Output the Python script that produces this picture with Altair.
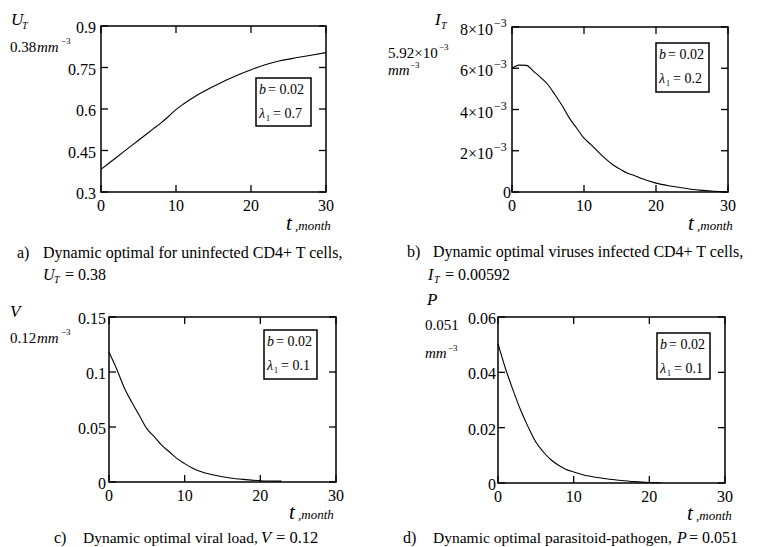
import altair as alt
import pandas as pd

FONT = "Liberation Serif"
W, H = 744, 545
NB = "\u00a0"

# ---------------- data ----------------
t_a = [0, 1, 2, 3, 4, 5, 6, 7, 8, 9, 10, 11, 12, 13, 14, 16, 18, 20, 22, 24, 26, 28, 30]
u_a = [0.382, 0.403, 0.424, 0.445, 0.466, 0.487, 0.508, 0.529, 0.55, 0.573, 0.598, 0.618,
       0.636, 0.653, 0.668, 0.695, 0.72, 0.742, 0.761, 0.775, 0.785, 0.794, 0.804]

t_b = [0, 0.5, 1, 2, 3, 4, 5, 6, 7, 8, 9, 10, 11, 12, 13, 14, 15, 16, 17, 18, 20, 22, 24, 26, 28, 30]
i_b = [0.00599, 0.0061, 0.00615, 0.00614, 0.00585, 0.00555, 0.0052, 0.0047, 0.00417, 0.00357,
       0.00309, 0.00261, 0.00229, 0.00193, 0.00161, 0.00132, 0.00111, 0.00092, 0.0008, 0.00065,
       0.00043, 0.00029, 0.00018, 0.00009, 0.00004, 0.00002]

t_c = [0, 1, 2, 3, 4, 5, 6, 7, 8, 9, 10, 11, 12, 14, 16, 18, 20, 22.8]
v_c = [0.118, 0.103, 0.086, 0.0727, 0.0606, 0.0485, 0.041, 0.0333, 0.0273, 0.0212, 0.0167,
       0.0127, 0.0097, 0.0061, 0.0036, 0.0022, 0.0012, 0.0008]

t_d = [0, 1, 2, 3, 4, 5, 6, 7, 8, 9, 10, 12, 14, 16, 18, 20, 21.5]
p_d = [0.0504, 0.0413, 0.0335, 0.0263, 0.0202, 0.0148, 0.0112, 0.0084, 0.0064, 0.0049, 0.004,
       0.0025, 0.0016, 0.001, 0.0005, 0.0002, 0.0001]

x_ticks = [0, 10, 20, 30]
y_ticks_a = [0.3, 0.45, 0.6, 0.75, 0.9]
y_ticks_b = [0, 0.002, 0.004, 0.006, 0.008]
y_ticks_c = [0, 0.05, 0.1, 0.15]
y_ticks_d = [0, 0.02, 0.04, 0.06]

captions = [
    "Dynamic optimal for uninfected CD4+ T cells,",
    "Dynamic optimal viruses infected CD4+ T cells,",
    "Dynamic optimal viral load,",
    "Dynamic optimal parasitoid-pathogen,",
]
caption_values = ["= 0.38", "= 0.00592", "=" + NB + "0.12", "= 0.051"]
letters = ["a)", "b)", "c)", "d)"]
b_param = "= 0.02"
lambdas = ["= 0.7", "= 0.2", "= 0.1", "= 0.1"]

_one = pd.DataFrame({"k": [0]})


def txt(s, x, y, size=16, italic=False, align="left", baseline="alphabetic"):
    return alt.Chart(_one).mark_text(
        text=s, font=FONT, fontSize=size, fontStyle="italic" if italic else "normal",
        align=align, baseline=baseline, color="black",
    ).encode(x=alt.value(x), y=alt.value(y))


def panel(t, v, geom, ydom, yticks, lab_pad=4, y_labels=True, extra=()):
    L, R, T, B = geom
    xs = alt.Scale(domain=[0, 30], range=[L, R], nice=False, zero=False)
    ys = alt.Scale(domain=ydom, range=[B, T], nice=False, zero=False)
    df = pd.DataFrame({"t": t, "v": v})
    line = alt.Chart(df).mark_line(color="black", strokeWidth=1.1, interpolate="monotone").encode(
        x=alt.X("t:Q", scale=xs, axis=None),
        y=alt.Y("v:Q", scale=ys, axis=None),
    )
    frame = alt.Chart(_one).mark_rect(fillOpacity=0, stroke="black", strokeWidth=1.5).encode(
        x=alt.value(L), x2=alt.value(R), y=alt.value(T), y2=alt.value(B)
    )
    ytk = pd.DataFrame({"yt": yticks})
    xtk = pd.DataFrame({"xt": x_ticks})
    rule = dict(color="black", strokeWidth=1.3)
    left = alt.Chart(ytk).mark_rule(**rule).encode(
        y=alt.Y("yt:Q", scale=ys, axis=None), x=alt.value(L), x2=alt.value(L + 7))
    right = alt.Chart(ytk).mark_rule(**rule).encode(
        y=alt.Y("yt:Q", scale=ys, axis=None), x=alt.value(R - 7), x2=alt.value(R))
    top = alt.Chart(xtk).mark_rule(**rule).encode(
        x=alt.X("xt:Q", scale=xs, axis=None), y=alt.value(T), y2=alt.value(T + 7))
    bottom = alt.Chart(xtk).mark_rule(**rule).encode(
        x=alt.X("xt:Q", scale=xs, axis=None), y=alt.value(B - 7), y2=alt.value(B))
    xlab = alt.Chart(xtk).transform_calculate(lbl="format(datum.xt, '~g')").mark_text(
        font=FONT, fontSize=16, align="center", baseline="top", color="black").encode(
        x=alt.X("xt:Q", scale=xs, axis=None), y=alt.value(B + 6), text="lbl:N")
    layers = [line, frame, left, right, top, bottom, xlab]
    if y_labels:
        ylab = alt.Chart(ytk).transform_calculate(lbl="format(datum.yt, '~g')").mark_text(
            font=FONT, fontSize=16, align="right", baseline="middle", dy=2, color="black").encode(
            y=alt.Y("yt:Q", scale=ys, axis=None), x=alt.value(L - lab_pad), text="lbl:N")
        layers.append(ylab)
    for f in extra:
        layers.append(f(ys))
    return alt.layer(*layers)


# panel geometry (chart pixel coords): left, right, top, bottom
GA = (93, 318, 18, 184)
GB = (504, 720, 19, 184)
GC = (101, 328, 309, 474)
GD = (490, 717, 309, 475)


# panel b: y labels in the "8×10^-3" style
def b_main(ys):
    d = pd.DataFrame({"yt": y_ticks_b[1:]})
    return alt.Chart(d).transform_calculate(
        lbl="format(datum.yt * 1000, 'd') + '×10'"
    ).mark_text(font=FONT, fontSize=16, align="right", baseline="middle", dy=3, color="black").encode(
        y=alt.Y("yt:Q", scale=ys, axis=None), x=alt.value(GB[0] - 19), text="lbl:N")


def b_exp(ys):
    d = pd.DataFrame({"yt": y_ticks_b[1:]})
    return alt.Chart(d).mark_text(text="−3", font=FONT, fontSize=12, align="left",
                                  baseline="middle", dy=-4, color="black").encode(
        y=alt.Y("yt:Q", scale=ys, axis=None), x=alt.value(GB[0] - 18))


def b_zero(ys):
    d = pd.DataFrame({"yt": y_ticks_b[:1]})
    return alt.Chart(d).transform_calculate(lbl="format(datum.yt, 'd')").mark_text(
        font=FONT, fontSize=16, align="right", baseline="middle", dy=1, color="black").encode(
        y=alt.Y("yt:Q", scale=ys, axis=None), x=alt.value(GB[0] - 1), text="lbl:N")


pa = panel(t_a, u_a, GA, [0.3, 0.9], y_ticks_a, lab_pad=5)
pb = panel(t_b, i_b, GB, [0, 0.008], y_ticks_b, y_labels=False, extra=(b_main, b_exp, b_zero))
pc = panel(t_c, v_c, GC, [0, 0.15], y_ticks_c, lab_pad=3)
pd_ = panel(t_d, p_d, GD, [0, 0.06], y_ticks_d, lab_pad=2)

texts = []
# y-axis titles
texts += [txt("U", 3, 17, 17, True), txt("T", 14, 21, 10, True),
          txt("0.38", 2, 44, 15), txt("mm", 29, 44, 15, True), txt("−3", 53, 36, 9)]
texts += [txt("I", 427, 17, 17, True), txt("T", 433, 21, 10, True),
          txt("5.92×10", 380, 50, 15), txt("−3", 431, 42, 9),
          txt("mm", 380, 67, 15, True), txt("−3", 402, 60, 9)]
texts += [txt("V", 2, 309, 17, True),
          txt("0.12", 2, 335, 15), txt("mm", 29, 335, 15, True), txt("−3", 53, 327, 9)]
texts += [txt("P", 419, 297, 17, True), txt("0.051", 417, 322, 15),
          txt("mm", 417, 350, 15, True), txt("−3", 440, 343, 9)]
# x-axis titles
for (xt, yt) in [(278, 222), (680, 222), (281, 511), (679, 512)]:
    texts += [txt("t", xt, yt, 21, True), txt(",month", xt + 9, yt, 13, True)]
# captions
texts += [txt(letters[0], 9, 250, 16), txt(captions[0], 35, 250, 16),
          txt("U", 35, 272, 16, True), txt("T", 46, 275, 10, True), txt(caption_values[0], 57, 272, 16)]
texts += [txt(letters[1], 399, 249, 16), txt(captions[1], 425, 249, 16),
          txt("I", 420, 272, 16, True), txt("T", 426, 275, 10, True), txt(caption_values[1], 437, 272, 16)]
texts += [txt(letters[2], 46, 535, 16), txt(captions[2], 75, 535, 15.5),
          txt("V", 253, 535, 16.5, True), txt(caption_values[2], 268, 535, 16.5)]
texts += [txt(letters[3], 395, 535, 16), txt(captions[3], 425, 535, 15.5),
          txt("P", 669, 535, 16, True), txt(caption_values[3], 681, 535, 16)]

# parameter boxes
boxes = [(248, 70, 303, 118), (648, 35, 701, 84), (256, 322, 309, 371), (649, 325, 702, 371)]
for (bx0, by0, bx1, by1), lam in zip(boxes, lambdas):
    texts.append(alt.Chart(_one).mark_rect(fillOpacity=0, stroke="black", strokeWidth=1.5).encode(
        x=alt.value(bx0), x2=alt.value(bx1), y=alt.value(by0), y2=alt.value(by1)))
    texts += [txt("b", bx0 + 3, by0 + 16, 14, True), txt(b_param, bx0 + 12, by0 + 16, 14),
              txt("λ", bx0 + 3, by0 + 40, 14, True), txt("1", bx0 + 10, by0 + 43, 8),
              txt(lam, bx0 + 17, by0 + 40, 14)]

chart = alt.layer(pa, pb, pc, pd_, *texts).resolve_scale(
    x="independent", y="independent"
).properties(
    width=W, height=H, padding=0, autosize=alt.AutoSizeParams(type="none")
).configure_view(strokeWidth=0)

chart.save("out.html", embed_options={"renderer": "svg", "actions": False})
